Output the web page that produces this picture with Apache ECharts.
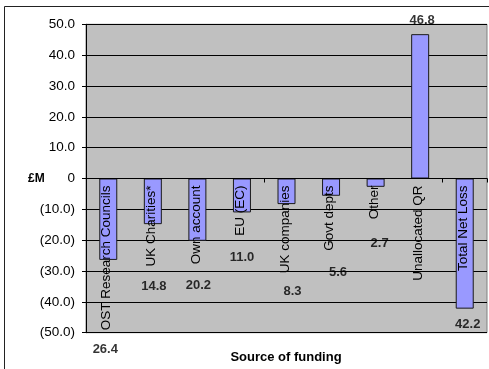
<!DOCTYPE html>
<html>
<head>
<meta charset="utf-8">
<script src="https://cdn.jsdelivr.net/npm/echarts@6/dist/echarts.min.js"></script>
<style>
html,body{margin:0;padding:0;background:#fff;}
#chart{width:489px;height:369px;}
</style>
</head>
<body>
<div id="chart"></div>
<script>
// ---- data ----
var categories = ['OST Research Councils','UK Charities*','Own account','EU (EC)','UK companies','Govt depts','Other','Unallocated QR','Total Net Loss'];
var values = [-26.4, -14.8, -20.2, -11.0, -8.3, -5.6, -2.7, 46.8, -42.2];
var valueLabels = ['26.4','14.8','20.2','11.0','8.3','5.6','2.7','46.8','42.2'];
// where each value label sits on the £M scale (as placed in the picture)
var labelAnchors = [-55.5, -35.1, -34.6, -25.5, -36.7, -30.5, -20.9, 51.2, -47.4];
var yTicks = [-50, -40, -30, -20, -10, 0, 10, 20, 30, 40, 50];

// ---- style ----
var FONT = 'Liberation Sans, Arial, sans-serif';
var labelNudgeX = [-3, 1, 1, 0, 6, 7, 4, 2, 3];

function fmtTick(v){
  if (v === 0) return '0';
  var s = Math.abs(v).toFixed(1);
  return v < 0 ? '(' + s + ')' : s;
}

var chart = echarts.init(document.getElementById('chart'), null, {renderer:'canvas'});
chart.setOption({
  animation:false,
  backgroundColor:'#ffffff',
  textStyle:{fontFamily:FONT},
  grid:{left:86, right:2, top:24.3, bottom:36.3, containLabel:false, outerBoundsMode:'none',
        show:true, backgroundColor:'#C0C0C0', borderColor:'#808080', borderWidth:1},
  xAxis:{
    type:'category', data:categories, z:10,
    axisLine:{onZero:true, lineStyle:{color:'#000', width:1}},
    axisTick:{show:true, alignWithLabel:false, length:4, lineStyle:{color:'#000'}},
    axisLabel:{show:false},
    splitLine:{show:false}
  },
  yAxis:{
    type:'value', min:yTicks[0], max:yTicks[yTicks.length-1], interval:10,
    axisLine:{show:true, lineStyle:{color:'#000'}},
    axisTick:{show:true, length:4, lineStyle:{color:'#000'}},
    axisLabel:{formatter:fmtTick, fontSize:13.5, color:'#000', margin:11, fontFamily:FONT},
    splitLine:{show:true, lineStyle:{color:'#000', width:1}}
  },
  series:[
    {
      type:'bar', data:values, barWidth:18, z:2,
      itemStyle:{color:'#9999FF', borderColor:'#1a1a1a', borderWidth:1}
    },
    {
      // category names, written down from the zero line
      type:'custom', z:11, silent:true, clip:false,
      data:categories.map(function(c,i){return [i, 0];}),
      encode:{x:0, y:1},
      renderItem:function(params, api){
        var p = api.coord([api.value(0), api.value(1)]);
        return {
          type:'text', x:p[0] - 1.5, y:p[1] + 7, rotation:Math.PI/2,
          style:{text:categories[params.dataIndex], align:'right', verticalAlign:'middle',
                 font:'13.5px ' + FONT, fill:'#000'}
        };
      }
    },
    {
      type:'scatter', symbolSize:0, clip:false, z:12, silent:true,
      data:categories.map(function(c,i){return [c, labelAnchors[i]];}),
      label:{
        show:true, position:'inside', fontSize:13, fontWeight:'bold', color:'#000', fontFamily:FONT,
        formatter:function(p){return valueLabels[p.dataIndex];}
      },
      labelLayout:function(p){return {dx:labelNudgeX[p.dataIndex]};}
    }
  ],
  graphic:[
    {type:'rect', shape:{x:4.5, y:6.5, width:500, height:400}, style:{fill:null, stroke:'#222', lineWidth:1}, z:-1, silent:true},
    {type:'text', left:28, top:173, style:{text:'£M', font:'bold 12px '+FONT, fill:'#000'}},
    {type:'text', x:286, y:357, style:{text:'Source of funding', font:'bold 13px '+FONT, fill:'#000', textAlign:'center', textVerticalAlign:'middle'}}
  ]
});
</script>
</body>
</html>
